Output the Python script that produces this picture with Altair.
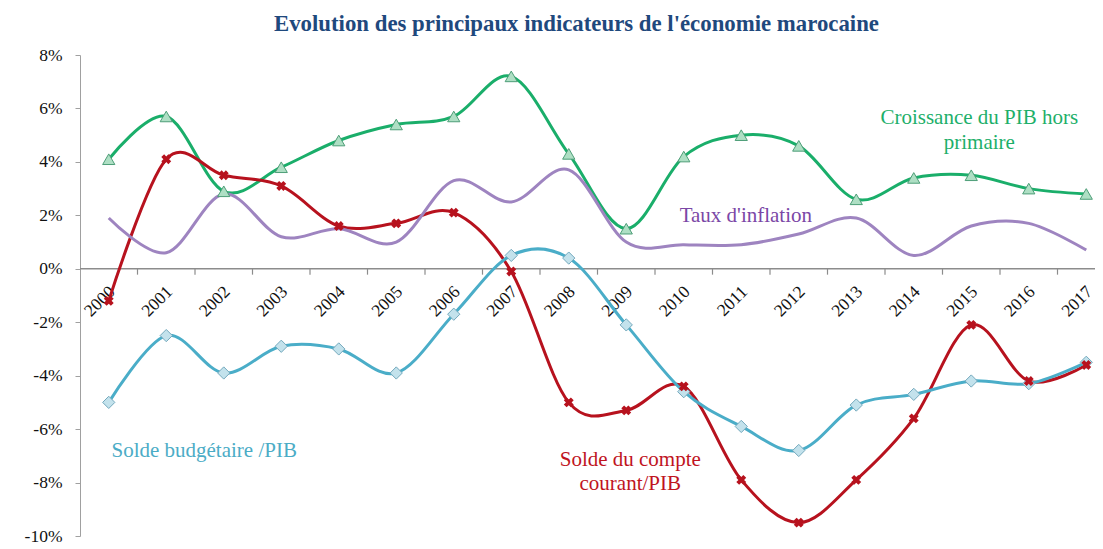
import altair as alt
import pandas as pd

# ---------------- data ----------------
years = list(range(2000, 2018))
croissance = [4.1, 5.7, 2.9, 3.8, 4.8, 5.4, 5.7, 7.2, 4.3, 1.5, 4.2, 5.0, 4.6, 2.6, 3.4, 3.5, 3.0, 2.8]
compte = [-1.2, 4.1, 3.5, 3.1, 1.6, 1.7, 2.1, -0.1, -5.0, -5.3, -4.4, -7.9, -9.5, -7.9, -5.6, -2.1, -4.2, -3.6]
budget = [-5.0, -2.5, -3.9, -2.9, -3.0, -3.9, -1.7, 0.5, 0.4, -2.1, -4.6, -5.9, -6.8, -5.1, -4.7, -4.2, -4.3, -3.5]
inflation = [1.9, 0.6, 2.8, 1.2, 1.5, 1.0, 3.3, 2.5, 3.7, 1.0, 0.9, 0.9, 1.3, 1.9, 0.5, 1.6, 1.7, 0.7]

series_names = ["Croissance", "Compte", "Budget", "Inflation"]
series_colors = ["#1AAE6A", "#B7121E", "#4AADC8", "#9E84C0"]

ann_series = ["Croissance", "Croissance", "Inflation", "Budget", "Compte", "Compte"]
ann_text = ["Croissance du PIB hors", "primaire", "Taux d'inflation", "Solde budgétaire /PIB", "Solde du compte", "courant/PIB"]
ann_x = [2015.14, 2015.14, 2011.08, 2001.66, 2009.07, 2009.07]
ann_y = [5.40, 4.50, 1.76, -7.06, -7.38, -8.28]
ann_colors = {"Croissance": "#1DAF6A", "Inflation": "#7B47A6", "Budget": "#4BACC6", "Compte": "#C0141E"}

title_text = "Evolution des principaux indicateurs de l'économie marocaine"

rows = []
for name, vals in zip(series_names, [croissance, compte, budget, inflation]):
    for y, v in zip(years, vals):
        rows.append({"year": y, "value": v, "series": name})
df = pd.DataFrame(rows)

ticks_df = pd.DataFrame({"pos": [y + 0.5 for y in years[:-1]], "zero": 0.0, "end": -0.22})
labels_df = pd.DataFrame({"year": years, "label": [str(y) for y in years], "zero": 0.0})
ann_df = pd.DataFrame({"series": ann_series, "text": ann_text, "x": ann_x, "y": ann_y})

W, H = 1015, 481
STEP = 57.5
x_scale = alt.Scale(domain=[1999.5, 1999.5 + W / STEP], nice=False, zero=False)
y_scale = alt.Scale(domain=[-10, 8], nice=False)
color_scale = alt.Scale(domain=series_names, range=series_colors)

FONT = "Liberation Serif"

base = alt.Chart(df)

yaxis = alt.Axis(
    values=list(range(-10, 10, 2)),
    labelExpr="datum.value + '%'",
    grid=False,
    domainColor="#A0A0A0",
    tickColor="#A0A0A0",
    tickSize=5,
    labelFont=FONT,
    labelFontSize=17.5,
    labelColor="#111111",
    labelPadding=13,
    title=None,
)

zero_rule = alt.Chart(pd.DataFrame({"v": [0.0]})).mark_rule(
    color="#8C8C8C", strokeWidth=1.5
).encode(y=alt.Y("v:Q", scale=y_scale, axis=yaxis))

xticks = alt.Chart(ticks_df).mark_rule(color="#8C8C8C", strokeWidth=1.2).encode(
    x=alt.X("pos:Q", scale=x_scale, axis=None),
    y=alt.Y("zero:Q", scale=y_scale),
    y2="end:Q",
)

xlabels = alt.Chart(labels_df).mark_text(
    font=FONT, fontSize=17.5, color="#111111", angle=315,
    align="right", baseline="middle", dx=-12, dy=17,
).encode(
    x=alt.X("year:Q", scale=x_scale, axis=None),
    y=alt.Y("zero:Q", scale=y_scale),
    text="label:N",
)

lines = base.mark_line(interpolate="cardinal", strokeWidth=3).encode(
    x=alt.X("year:Q", scale=x_scale, axis=None),
    y=alt.Y("value:Q", scale=y_scale),
    color=alt.Color("series:N", scale=color_scale, legend=None),
)

tri = base.transform_filter(alt.datum.series == "Croissance").mark_point(
    shape="triangle-up", size=150, filled=True, fill="#AEDFC4", stroke="#4E9E78",
    strokeWidth=1, opacity=1,
).encode(x=alt.X("year:Q", scale=x_scale, axis=None), y=alt.Y("value:Q", scale=y_scale))

dia = base.transform_filter(alt.datum.series == "Budget").mark_point(
    shape="diamond", size=150, filled=True, fill="#C3E2EC", stroke="#74A9BD",
    strokeWidth=1, opacity=1,
).encode(x=alt.X("year:Q", scale=x_scale, axis=None), y=alt.Y("value:Q", scale=y_scale))

crs = base.transform_filter(alt.datum.series == "Compte").mark_point(
    shape="cross", angle=45, size=100, filled=True, color="#B7121E", opacity=1,
).encode(x=alt.X("year:Q", scale=x_scale, axis=None), y=alt.Y("value:Q", scale=y_scale))

ann_layers = []
for s, c in ann_colors.items():
    ann_layers.append(
        alt.Chart(ann_df).transform_filter(alt.datum.series == s).mark_text(
            font=FONT, fontSize=21, align="center", baseline="alphabetic", color=c,
        ).encode(
            x=alt.X("x:Q", scale=x_scale, axis=None),
            y=alt.Y("y:Q", scale=y_scale),
            text="text:N",
        )
    )

chart = alt.layer(
    zero_rule, xticks, xlabels, lines, tri, dia, crs, *ann_layers,
).properties(
    width=W,
    height=H,
    padding={"left": 72, "top": 47, "right": 0, "bottom": 8},
    autosize=alt.AutoSizeParams(type="none"),
    title=alt.Title(
        title_text, font=FONT, fontSize=22.8, fontWeight="bold", color="#1F497D",
        anchor="middle", offset=10, dx=-11,
    ),
).configure_view(stroke=None)

chart.save("out.html", embed_options={"renderer": "svg", "actions": False})
